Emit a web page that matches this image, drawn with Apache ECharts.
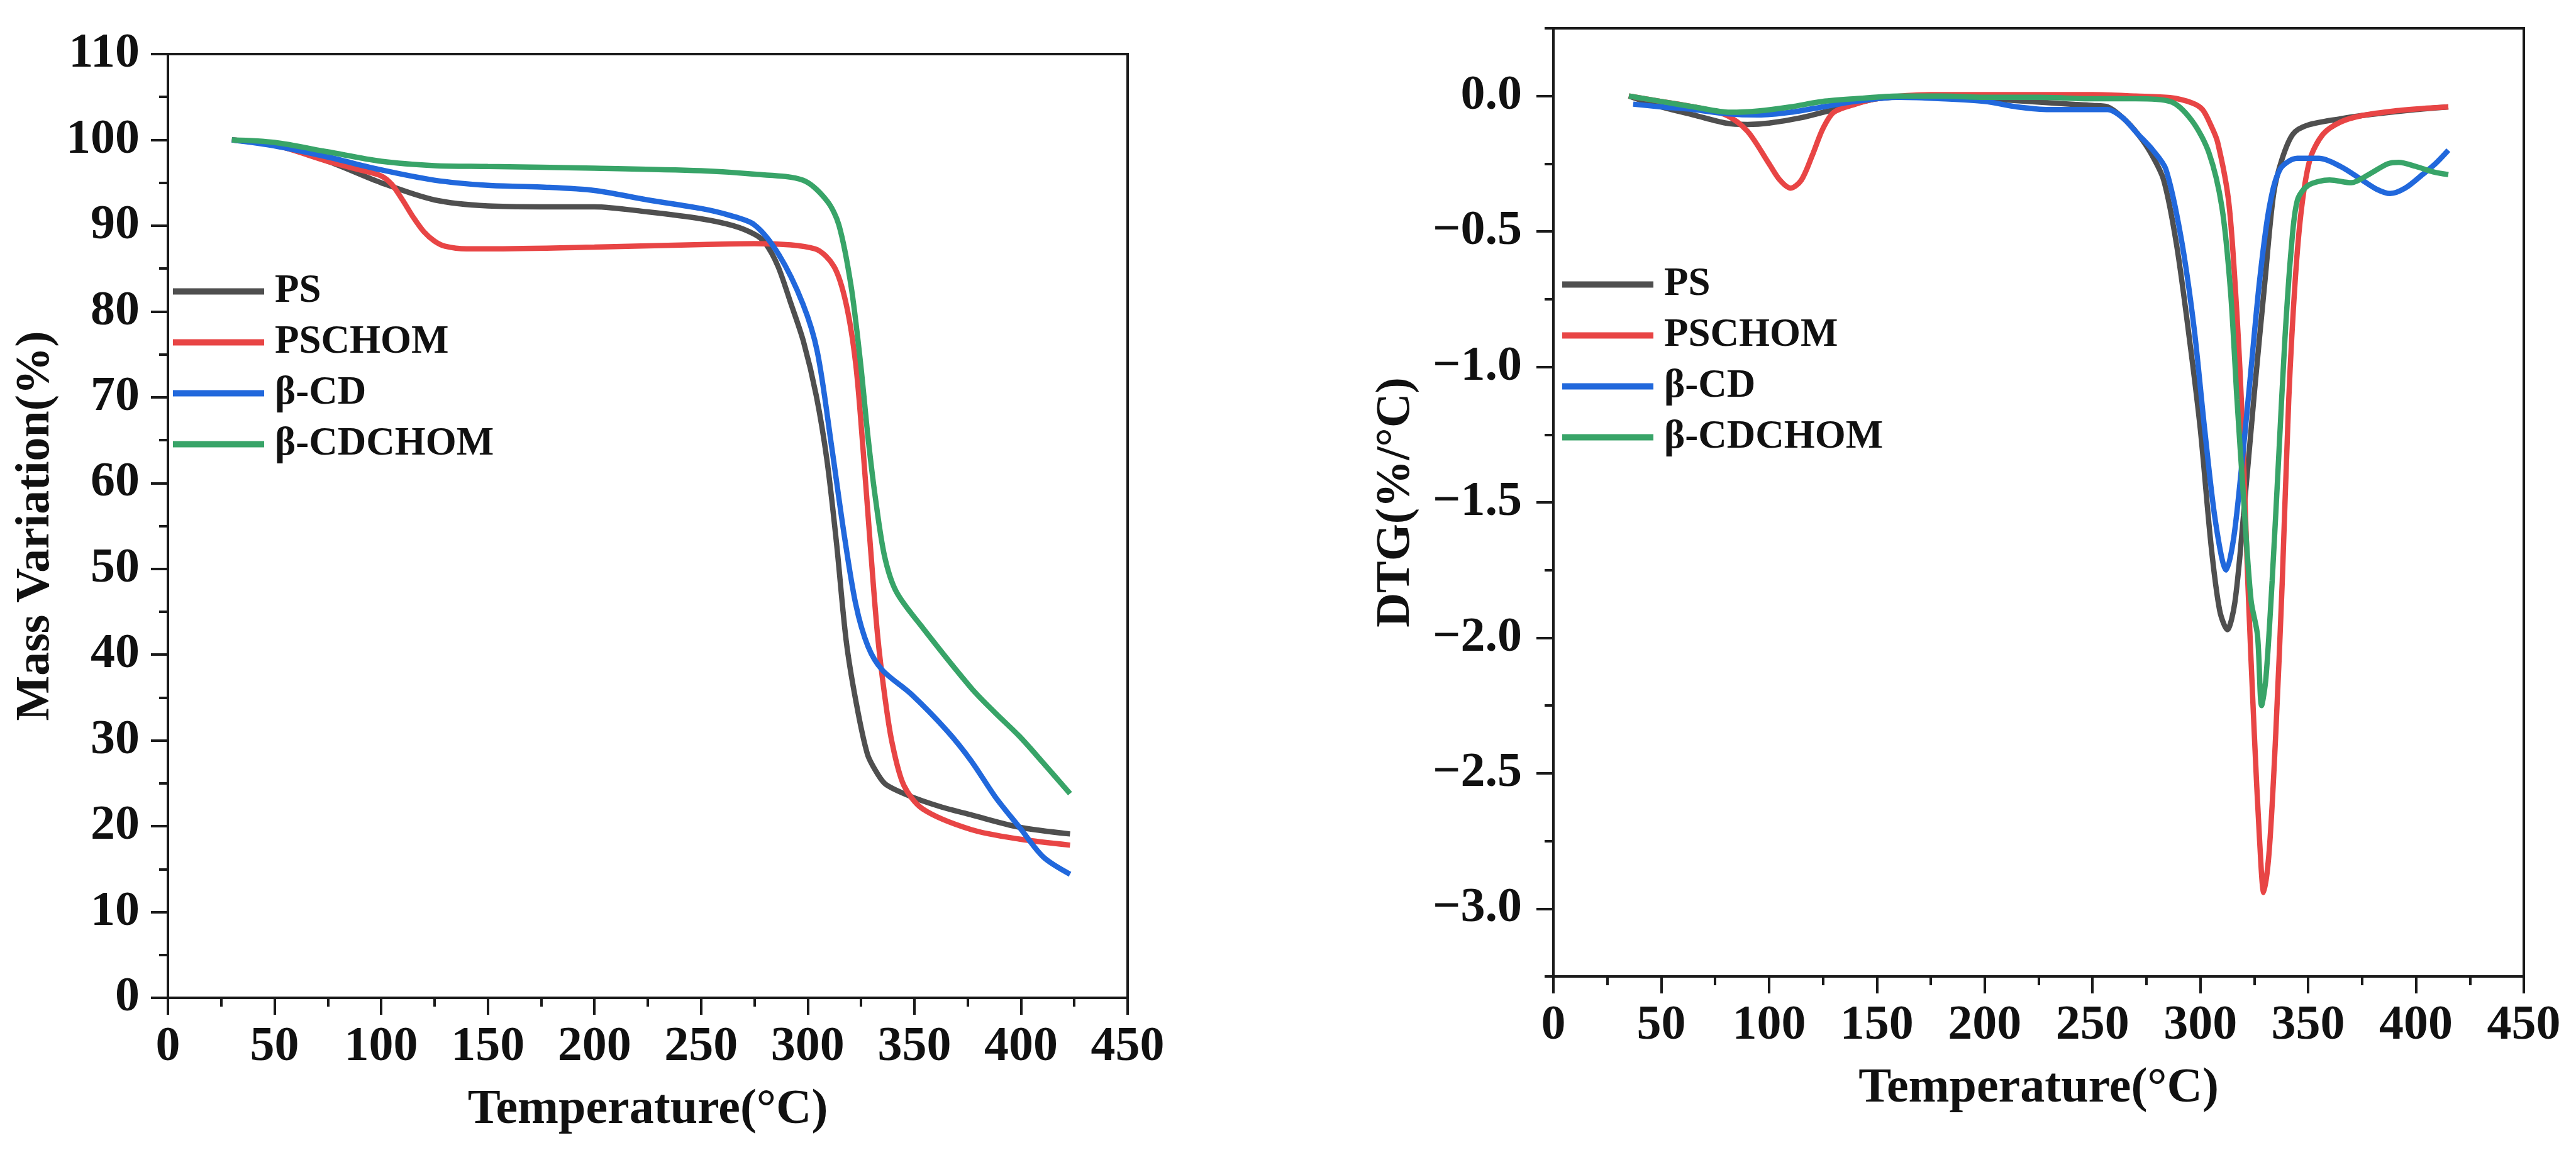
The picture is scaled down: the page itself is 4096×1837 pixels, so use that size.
<!DOCTYPE html>
<html>
<head>
<meta charset="utf-8">
<script src="https://cdn.jsdelivr.net/npm/echarts@6/dist/echarts.min.js"></script>
<style>
html,body{margin:0;padding:0;background:#fff;}
#chart{width:4096px;height:1837px;}
</style>
</head>
<body>
<div id="chart"></div>
<script>
// ---------- Series names ----------
const seriesNames = ['PS', 'PSCHOM', 'β-CD', 'β-CDCHOM'];

// ---------- TGA (left) : temperature (°C) / mass (%) ----------
const tgaPS_T = [30,50,75,100,125,150,175,200,225,250,265,275,280,286,292,298,304,309,313.5,318,322.5,328,333,337,348,362,377,399,423];
const tgaPS_M = [100,99.4,97.5,95,93,92.3,92.2,92.2,91.6,90.8,90,89,88,85.3,81,76.5,70.2,62.7,53,41.7,34.7,28.4,26,24.8,23.5,22.3,21.3,19.9,19.1];

const tgaPSCHOM_T = [30,50,75,90,100,105,110,115,120,125,130,140,150,200,250,275,303.4,312.4,318,322.5,325.9,329.3,332.7,336,339.5,345,354,376.7,399.2,423];
const tgaPSCHOM_M = [100,99.4,97.5,96.5,95.8,94.8,93,91,89.3,88.2,87.6,87.3,87.3,87.5,87.8,87.9,87.3,85.2,80.9,73.9,64.1,52.9,42.4,35.4,29.8,24.8,22,19.6,18.5,17.8];

const tgaCD_T = [30,50,75,100,125,150,175,200,225,250,262,275,286.5,297.7,304.5,311.3,316.9,322.5,328.2,335,348.5,365.4,376.7,388,399.2,410.5,423];
const tgaCD_M = [100,99.3,98,96.5,95.3,94.7,94.5,94.1,93,92,91.3,90.1,86.6,80.9,75.3,64.1,54.3,45.9,41,38.2,35.4,31.1,27.6,23.4,19.9,16.4,14.4];

const tgaCDCHOM_T = [30,50,75,100,125,150,200,250,275,297.7,309,314.6,320.3,324.8,328.2,331.6,336,341.6,354,376.7,388,399.2,410,423];
const tgaCDCHOM_M = [100,99.7,98.6,97.5,97,96.9,96.7,96.4,96,95.3,92.9,90.1,83,73.9,65.5,58.5,51.5,47.3,43.1,36.1,33.2,30.5,27.5,23.8];

// ---------- DTG (right) : temperature (°C) / DTG (%/°C) ----------
const dtgPS_T = [35,50,65,80,90,100,115,130,150,175,200,220,240,250,257,264,271,277,283,289,295,300,305,309,312.5,316,320,325,330,334,338,343,350,365,375,400,415];
const dtgPS_V = [0,-0.04,-0.07,-0.1,-0.105,-0.1,-0.08,-0.05,-0.01,0,-0.01,-0.02,-0.03,-0.035,-0.04,-0.08,-0.14,-0.21,-0.31,-0.55,-0.9,-1.23,-1.66,-1.9,-1.97,-1.87,-1.55,-1.1,-0.68,-0.36,-0.23,-0.14,-0.107,-0.084,-0.072,-0.05,-0.04];

const dtgPSCHOM_T = [35,50,65,80,90,100,105,110,115,120,125,130,140,150,175,200,225,250,270,286,296,301,305,308,313,316,319,322,325,327.5,329.4,332,335,338,341,344,347,351,357,365,375,390,405,415];
const dtgPSCHOM_V = [0,-0.02,-0.04,-0.07,-0.13,-0.25,-0.31,-0.34,-0.31,-0.22,-0.12,-0.06,-0.03,-0.01,0.005,0.005,0.005,0.005,0,-0.006,-0.025,-0.05,-0.11,-0.17,-0.38,-0.68,-1.12,-1.79,-2.35,-2.75,-2.94,-2.78,-2.35,-1.79,-1.12,-0.68,-0.41,-0.23,-0.14,-0.096,-0.072,-0.055,-0.045,-0.04];

const dtgCD_T = [37,50,65,80,95,110,125,140,160,180,200,215,230,245,257,264,271,278,284,291,297,302,307,312,315.5,319.5,323.5,327.5,332,337,345,355,365,375,382,388,395,403,409,415];
const dtgCD_V = [-0.03,-0.04,-0.05,-0.065,-0.07,-0.06,-0.04,-0.02,-0.005,-0.01,-0.02,-0.04,-0.05,-0.05,-0.05,-0.08,-0.14,-0.2,-0.27,-0.52,-0.85,-1.23,-1.57,-1.75,-1.63,-1.34,-1.01,-0.68,-0.41,-0.27,-0.23,-0.23,-0.26,-0.31,-0.345,-0.36,-0.34,-0.29,-0.25,-0.2];

const dtgCDCHOM_T = [35,50,65,82,95,110,125,140,160,180,200,225,250,270,286,296,304,310,314,317,320,323.5,326.5,328.4,330.4,333.3,336.3,339.2,342.2,345,350,360,370,378,387,392,400,408,415];
const dtgCDCHOM_V = [0,-0.02,-0.04,-0.06,-0.055,-0.04,-0.02,-0.01,0,0,-0.005,-0.005,-0.01,-0.01,-0.02,-0.09,-0.21,-0.41,-0.72,-1.12,-1.48,-1.86,-1.99,-2.25,-2.15,-1.79,-1.34,-0.9,-0.56,-0.385,-0.33,-0.31,-0.32,-0.29,-0.25,-0.245,-0.26,-0.28,-0.29];

// ---------- Tick values ----------
const dtgMajorTicks = [-3, -2.5, -2, -1.5, -1, -0.5, 0];
const dtgMinorTicks = [-3.25, -2.75, -2.25, -1.75, -1.25, -0.75, -0.25, 0.25];

const colors = ['#4f4f4f', '#e84545', '#2168dc', '#38a468'];

function pairs(xs, ys) { return xs.map((x, i) => [x, ys[i]]); }

const FONT = '"Liberation Serif", "Times New Roman", serif';
const AX = '#1a1a1a';

function xAxisCfg(gi) {
  return {
    gridIndex: gi, type: 'value', min: 0, max: 450, interval: 50,
    name: 'Temperature(°C)', nameLocation: 'middle', nameGap: 140,
    nameTextStyle: { fontFamily: FONT, fontWeight: 'bold', fontSize: 78, color: '#111' },
    axisLine: { show: true, onZero: false, lineStyle: { color: AX, width: 4 } },
    axisTick: { show: true, inside: false, length: 27, lineStyle: { color: AX, width: 4 } },
    minorTick: { show: true, splitNumber: 2, length: 14, lineStyle: { color: AX, width: 4 } },
    splitLine: { show: false }, minorSplitLine: { show: false },
    axisLabel: { fontFamily: FONT, fontWeight: 'bold', fontSize: 78, color: '#111', margin: 40 }
  };
}

const lineSeries = [];
const tga = [[tgaPS_T, tgaPS_M], [tgaPSCHOM_T, tgaPSCHOM_M], [tgaCD_T, tgaCD_M], [tgaCDCHOM_T, tgaCDCHOM_M]];
const dtg = [[dtgPS_T, dtgPS_V], [dtgPSCHOM_T, dtgPSCHOM_V], [dtgCD_T, dtgCD_V], [dtgCDCHOM_T, dtgCDCHOM_V]];
const order = [3, 2, 1, 0];
order.forEach(i => {
  lineSeries.push({
    name: seriesNames[i], type: 'line', xAxisIndex: 0, yAxisIndex: 0,
    data: pairs(tga[i][0], tga[i][1]), showSymbol: false, symbol: 'none', smooth: 0.3,
    lineStyle: { color: colors[i], width: 8.5 }, itemStyle: { color: colors[i] }, z: 3 + i
  });
});
order.forEach(i => {
  lineSeries.push({
    name: seriesNames[i], type: 'line', xAxisIndex: 1, yAxisIndex: 1,
    data: pairs(dtg[i][0], dtg[i][1]), showSymbol: false, symbol: 'none', smooth: 0.3,
    lineStyle: { color: colors[i], width: 8.5 }, itemStyle: { color: colors[i] }, z: 3 + i
  });
});

function legendCfg(left, top) {
  return {
    orient: 'vertical', left: left, top: top, data: seriesNames,
    itemWidth: 145, itemHeight: 10, itemGap: 18, icon: 'rect',
    textStyle: { fontFamily: FONT, fontWeight: 'bold', fontSize: 63, color: '#111', lineHeight: 62, padding: [0, 0, 0, 12] },
    selectedMode: false
  };
}

const chart = echarts.init(document.getElementById('chart'), null, { renderer: 'canvas', width: 4096, height: 1837 });
chart.setOption({
  backgroundColor: '#fff',
  animation: false,
  legend: [legendCfg(270, 427), legendCfg(2479, 416)],
  grid: [
    { left: 267, top: 86, width: 1526, height: 1501, show: true, borderColor: AX, borderWidth: 4, containLabel: false },
    { left: 2470, top: 45, width: 1543, height: 1508, show: true, borderColor: AX, borderWidth: 4, containLabel: false }
  ],
  xAxis: [xAxisCfg(0), xAxisCfg(1)],
  yAxis: [
    {
      gridIndex: 0, type: 'value', min: 0, max: 110, interval: 10,
      name: 'Mass Variation(%)', nameLocation: 'middle', nameGap: 172,
      nameTextStyle: { fontFamily: FONT, fontWeight: 'bold', fontSize: 76, color: '#111' },
      axisLine: { show: true, onZero: false, lineStyle: { color: AX, width: 4 } },
      axisTick: { show: true, inside: false, length: 27, lineStyle: { color: AX, width: 4 } },
      minorTick: { show: true, splitNumber: 2, length: 14, lineStyle: { color: AX, width: 4 } },
      splitLine: { show: false }, minorSplitLine: { show: false },
      axisLabel: { fontFamily: FONT, fontWeight: 'bold', fontSize: 78, color: '#111', margin: 45 }
    },
    {
      gridIndex: 1, type: 'value', min: -3.25, max: 0.25, interval: 0.25,
      name: 'DTG(%/°C)', nameLocation: 'middle', nameGap: 212,
      nameTextStyle: { fontFamily: FONT, fontWeight: 'bold', fontSize: 76, color: '#111' },
      axisLine: { show: true, onZero: false, lineStyle: { color: AX, width: 4 } },
      axisTick: { show: true, inside: false, length: 27, customValues: dtgMajorTicks, lineStyle: { color: AX, width: 4 } },
      splitLine: { show: false },
      axisLabel: {
        fontFamily: FONT, fontWeight: 'bold', fontSize: 78, color: '#111', margin: 50,
        customValues: dtgMajorTicks,
        formatter: v => (v < 0 ? '\u2212' : '') + Math.abs(v).toFixed(1)
      }
    },
    {
      gridIndex: 1, type: 'value', min: -3.25, max: 0.25, interval: 0.25, position: 'left',
      axisLine: { show: false },
      axisTick: { show: true, inside: false, length: 14, customValues: dtgMinorTicks, lineStyle: { color: AX, width: 4 } },
      axisLabel: { show: false }, splitLine: { show: false }
    }
  ],
  series: lineSeries
});
</script>
</body>
</html>
